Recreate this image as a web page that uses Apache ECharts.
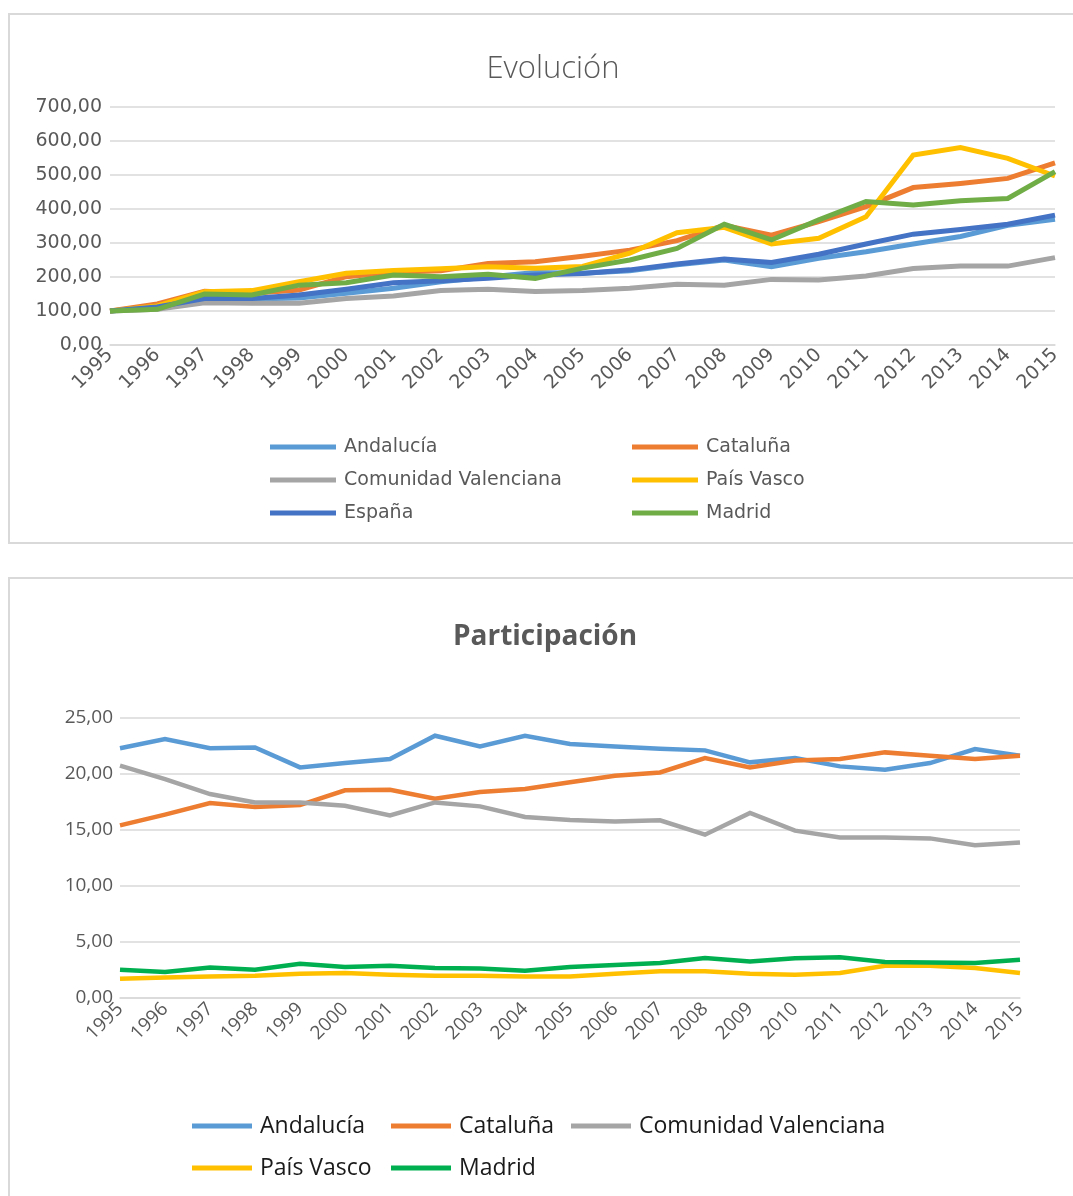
<!DOCTYPE html>
<html>
<head>
<meta charset="utf-8">
<script src="https://cdn.jsdelivr.net/npm/echarts@6/dist/echarts.min.js"></script>
<style>
html,body{margin:0;padding:0;background:#fff;}
#c{width:1073px;height:1196px;}
</style>
</head>
<body>
<div id="c"></div>
<script>
const years = ['1995','1996','1997','1998','1999','2000','2001','2002','2003','2004','2005','2006','2007','2008','2009','2010','2011','2012','2013','2014','2015'];

// Evolución (index, 1995 = 100)
const evoAndalucia = [100,110,130,135,138,152,167,186,200,213,211,218,236,250,230,255,274,297,319,352,370];
const evoCataluna  = [100,121,158,152,162,201,214,218,240,245,261,279,307,352,323,363,407,463,475,490,536];
const evoValencia  = [100,105,124,123,123,137,144,160,164,157,160,167,179,176,193,191,203,225,232,232,257];
const evoPaisVasco = [100,115,157,160,186,211,219,224,230,226,231,270,330,346,297,314,377,559,581,549,497];
const evoEspana    = [100,112,137,137,147,164,183,189,196,206,210,221,238,253,243,267,297,326,340,355,382];
const evoMadrid    = [100,105,150,147,176,183,206,201,208,196,226,250,284,355,309,368,422,412,424,431,510];

// Participación (%)
const parAndalucia = [22.30,23.12,22.30,22.37,20.59,20.98,21.34,23.42,22.46,23.42,22.68,22.46,22.26,22.11,21.04,21.43,20.68,20.38,20.98,22.23,21.63];
const parCataluna  = [15.41,16.37,17.41,17.05,17.23,18.54,18.60,17.79,18.39,18.66,19.27,19.85,20.14,21.43,20.59,21.21,21.34,21.93,21.63,21.34,21.63];
const parValencia  = [20.74,19.55,18.21,17.46,17.46,17.17,16.30,17.46,17.11,16.16,15.89,15.77,15.86,14.58,16.52,14.94,14.34,14.34,14.25,13.63,13.89];
const parPaisVasco = [1.72,1.84,1.93,1.99,2.17,2.23,2.08,1.99,1.99,1.93,1.93,2.17,2.38,2.38,2.17,2.08,2.23,2.88,2.88,2.68,2.23];
const parMadrid    = [2.53,2.32,2.73,2.53,3.06,2.77,2.88,2.68,2.64,2.44,2.77,2.95,3.13,3.57,3.27,3.54,3.63,3.21,3.18,3.13,3.42];

const evoTickLabels = ['0,00','100,00','200,00','300,00','400,00','500,00','600,00','700,00'];
const parTickLabels = ['0,00','5,00','10,00','15,00','20,00','25,00'];

const C = {
  andalucia:'#5b9bd5', cataluna:'#ed7d31', valencia:'#a5a5a5',
  paisvasco:'#ffc000', espana:'#4472c4', madridTop:'#70ad47', madridBot:'#00b050'
};
const GRID = '#d9d9d9';
const TXT = '#595959';
const topFont = 'DejaVu Sans';
const botFont = 'Open Sans';

function line(name, data, color, gi, w){
  return {type:'line', name, data, xAxisIndex:gi, yAxisIndex:gi, showSymbol:false, symbol:'none',
    lineStyle:{color, width:w, cap:'butt', join:'miter'}, itemStyle:{color}, animation:false, silent:true};
}

const chart = echarts.init(document.getElementById('c'), null, {renderer:'canvas'});
chart.setOption({
  animation:false,
  backgroundColor:'#fff',
  graphic:[
    {type:'rect', shape:{x:9, y:14, width:1075, height:529}, style:{fill:'none', stroke:GRID, lineWidth:2}, z:-10},
    {type:'rect', shape:{x:9, y:578, width:1075, height:640}, style:{fill:'none', stroke:GRID, lineWidth:2}, z:-10}
  ],
  title:[
    {text:'Evolución', left:548, textAlign:'center', top:49,
     textStyle:{fontFamily:botFont, fontWeight:300, fontSize:31, color:TXT}},
    {text:'Participación', left:540, textAlign:'center', top:618,
     textStyle:{fontFamily:botFont, fontWeight:'bold', fontSize:28, color:TXT}}
  ],
  grid:[
    {left:110, right:18, top:107, bottom:851, containLabel:false},
    {left:120, right:53, top:718, bottom:198, containLabel:false}
  ],
  xAxis:[
    {type:'category', gridIndex:0, data:years, boundaryGap:false,
     axisLine:{lineStyle:{color:GRID, width:1.5}}, axisTick:{show:false},
     axisLabel:{rotate:45, margin:7, interval:0, fontFamily:topFont, fontSize:19, color:TXT}},
    {type:'category', gridIndex:1, data:years, boundaryGap:false,
     axisLine:{lineStyle:{color:GRID, width:1.5}}, axisTick:{show:false},
     axisLabel:{rotate:45, margin:8, interval:0, fontFamily:botFont, fontSize:19, color:TXT}}
  ],
  yAxis:[
    {type:'value', gridIndex:0, min:0, max:700, interval:100,
     axisLine:{show:false}, axisTick:{show:false},
     splitLine:{lineStyle:{color:GRID, width:1.5}},
     axisLabel:{margin:8, fontFamily:topFont, fontSize:19, color:TXT, formatter:(v,i)=>evoTickLabels[i]}},
    {type:'value', gridIndex:1, min:0, max:25, interval:5,
     axisLine:{show:false}, axisTick:{show:false},
     splitLine:{lineStyle:{color:GRID, width:1.5}},
     axisLabel:{margin:7, fontFamily:botFont, fontSize:19, color:TXT, formatter:(v,i)=>parTickLabels[i]}}
  ],
  legend:[
    {orient:'vertical', left:270, top:437, padding:0, itemWidth:66, itemHeight:5, itemGap:13, icon:'rect', selectedMode:false,
     textStyle:{fontFamily:topFont, fontSize:19, color:TXT, lineHeight:20, padding:[0,0,0,3]},
     data:['Andalucía','Comunidad Valenciana','España']},
    {orient:'vertical', left:632, top:437, padding:0, itemWidth:66, itemHeight:5, itemGap:13, icon:'rect', selectedMode:false,
     textStyle:{fontFamily:topFont, fontSize:19, color:TXT, lineHeight:20, padding:[0,0,0,3]},
     data:['Cataluña','País Vasco','Madrid']},
    {orient:'vertical', left:192, top:1114, padding:0, itemWidth:60, itemHeight:5, itemGap:18, icon:'rect', selectedMode:false,
     textStyle:{fontFamily:botFont, fontSize:23, color:'#1a1a1a', lineHeight:24, padding:[0,0,0,3]},
     data:['Andalucía','País Vasco']},
    {orient:'vertical', left:391, top:1114, padding:0, itemWidth:60, itemHeight:5, itemGap:18, icon:'rect', selectedMode:false,
     textStyle:{fontFamily:botFont, fontSize:23, color:'#1a1a1a', lineHeight:24, padding:[0,0,0,3]},
     data:['Cataluña', {name:'Madrid', itemStyle:{color:C.madridBot}}]},
    {orient:'vertical', left:571, top:1114, padding:0, itemWidth:60, itemHeight:5, itemGap:18, icon:'rect', selectedMode:false,
     textStyle:{fontFamily:botFont, fontSize:23, color:'#1a1a1a', lineHeight:24, padding:[0,0,0,3]},
     data:['Comunidad Valenciana']}
  ],
  series:[
    line('Andalucía', evoAndalucia, C.andalucia, 0, 5),
    line('Cataluña', evoCataluna, C.cataluna, 0, 5),
    line('Comunidad Valenciana', evoValencia, C.valencia, 0, 5),
    line('País Vasco', evoPaisVasco, C.paisvasco, 0, 5),
    line('España', evoEspana, C.espana, 0, 5),
    line('Madrid', evoMadrid, C.madridTop, 0, 5),
    line('Andalucía', parAndalucia, C.andalucia, 1, 4.5),
    line('Cataluña', parCataluna, C.cataluna, 1, 4.5),
    line('Comunidad Valenciana', parValencia, C.valencia, 1, 4.5),
    line('País Vasco', parPaisVasco, C.paisvasco, 1, 4.5),
    line('Madrid', parMadrid, C.madridBot, 1, 4.5)
  ]
});
</script>
</body>
</html>
